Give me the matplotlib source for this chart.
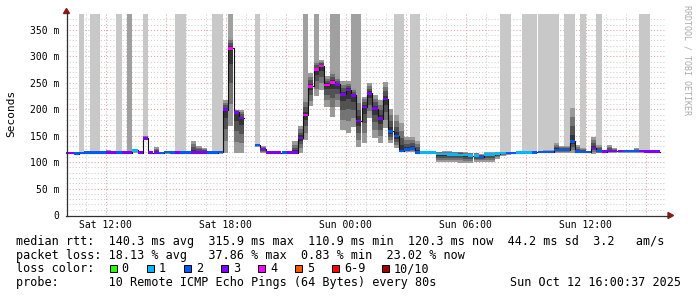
import numpy as np
import matplotlib
matplotlib.use("Agg")
import matplotlib.pyplot as plt
from matplotlib.lines import Line2D
from matplotlib.patches import Rectangle, Polygon

plt.rcParams['font.family'] = ['DejaVu Sans Mono']

nan = np.nan

# rrd rows are 16 minutes wide, first one starts Sat 09:52 (hours since Sat 00:00)
step_start = 9 + 52 / 60
step_len = 16 / 60

# median rtt per row (ms)
med = [117, 117, 116, 117, 118, 118, 118, 118, 118, 118,
       118, 118, 118, 122, 118, 145, 118, 118, 117, 119,
       118, 118, 118, 118, 118, 118, 118, 118, 118, 119,
       199, 315, 194, 183, nan, nan, 132, 125, 118, 118,
       118, 118, 118, 118, 146, 189, 243, 275, 282, 246,
       251, 247, 228, 236, 226, 178, 204, 230, 201, 182,
       219, 158, 149, 121, 124, 126, 118, 118.5, 118, 118,
       115, 115, 114, 114, 113.5, 113, 112, 112, 110, 114,
       114, 116, 117, 117, 117, 118, 118.5, 118.5, 118.5, 119,
       119, 119, 123, 123, 123, 139, 120, 119, 119, 127,
       121, 120, 121, 121, 121, 121, 121, 121, 121, 120,
       120, 120]

# lost pings per row (out of 10)
loss = [3, 3, 2, 2, 2, 2, 2, 2, 3, 3,
        2, 3, 3, 1, 3, 3, 3, 3, 2, 2,
        2, 3, 2, 2, 3, 3, 3, 2, 2, 2,
        3, 4, 3, 3, 0, 0, 2, 3, 3, 3,
        3, 2, 3, 3, 3, 4, 4, 4, 4, 4,
        4, 3, 3, 3, 3, 3, 3, 3, 3, 3,
        3, 2, 2, 2, 2, 2, 2, 1, 1, 1,
        1, 1, 1, 1, 1, 1, 1, 1, 2, 1,
        1, 1, 1, 2, 2, 1, 1, 1, 2, 2,
        2, 2, 2, 2, 2, 2, 2, 2, 2, 3,
        2, 3, 3, 3, 3, 2, 2, 2, 3, 3,
        3, 3]

# smoke extent (lowest / highest ping, ms)
lo = [115, 115, 114, 115, 116, 116, 116, 116, 116, 116,
      116, 116, 116, 118, 116, 143, 116, 116, 115, 116,
      116, 116, 116, 116, 116, 116, 116, 116, 116, 116,
      117, 168, 117, 117, nan, nan, 129, 118, 116, 116,
      116, 116, 116, 116, 118, 142, 206, 225, 236, 205,
      186, 205, 161, 155, 167, 129, 136, 183, 145, 136,
      164, 136, 126, 120, 120, 120, 116, 117, 116, 116,
      101, 101, 100, 100, 99, 99, 99, 100, 101, 101,
      101, 106, 112, 114, 115, 116, 116, 116, 116, 117,
      117, 117, 117, 117, 117, 117, 117, 117, 117, 116,
      117, 117, 118, 118, 118, 118, 118, 118, 118, 118,
      118, 118]
hi = [119, 119, 119, 120, 120, 121, 121, 120, 123, 120,
      120, 120, 121, 124, 120, 150, 121, 128, 120, 121,
      120, 120, 120, 120, 140, 131, 127, 121, 120, 121,
      218, 337, 199, 199, nan, nan, 135, 130, 120, 120,
      120, 120, 120, 139, 168, 222, 269, 292, 293, 262,
      272, 262, 253, 253, 240, 224, 224, 249, 227, 218,
      252, 200, 189, 174, 148, 148, 140, 121, 121, 121,
      120, 121, 121, 120, 120, 119, 118, 118, 116, 119,
      119, 120, 120, 120, 120, 120, 120, 120, 120, 121,
      123, 123, 137, 130, 130, 202, 132, 127, 121, 147,
      132, 122, 132, 127, 123, 123, 123, 126, 123, 122,
      122, 122]

# loss background shade per row: 0 none, 1 light, 2 darker
bg = [0, 0, 0, 1, 0, 1, 1, 0, 0, 0,
      1, 0, 2, 0, 0, 1, 0, 0, 0, 0,
      0, 1, 1, 0, 0, 0, 0, 0, 1, 1,
      0, 2, 0, 0, 0, 0, 1, 0, 0, 0,
      0, 0, 0, 0, 0, 2, 0, 2, 0, 0,
      2, 2, 0, 0, 2, 2, 0, 0, 0, 0,
      0, 0, 1, 1, 0, 1, 1, 0, 0, 0,
      0, 0, 0, 0, 0, 0, 0, 0, 0, 0,
      0, 0, 1, 1, 0, 0, 1, 1, 1, 1,
      1, 1, 1, 0, 1, 1, 0, 1, 0, 0,
      1, 0, 0, 0, 0, 0, 0, 0, 1, 1,
      0, 0]

loss_colors = {0: '#26ff00', 1: '#00b8ff', 2: '#0059ff', 3: '#7e00ff',
               4: '#ff00ff', 5: '#ff5500', 6: '#ff0000', 10: '#a10000'}
legend_labels = ['0', '1', '2', '3', '4', '5', '6-9', '10/10']
legend_keys = [0, 1, 2, 3, 4, 5, 6, 10]

xticks = [12, 18, 24, 30, 36]
xlabels = ['Sat 12:00', 'Sat 18:00', 'Sun 00:00', 'Sun 06:00', 'Sun 12:00']
yticks = [0, 50, 100, 150, 200, 250, 300, 350]
ylabels = ['0', '50 m', '100 m', '150 m', '200 m', '250 m', '300 m', '350 m']

med = np.array(med, float)
lo = np.array(lo, float)
hi = np.array(hi, float)
bg = np.array(bg)
n = len(med)
t = step_start + step_len * np.arange(n)
edges = step_start + step_len * np.arange(n + 1)
ytop = 380

W, H = 697, 297
fig = plt.figure(figsize=(W / 100, H / 100), dpi=100)
fig.patch.set_facecolor('white')


def fx(px):
    return px / W


def fy(py):
    return 1 - py / H


ax = fig.add_axes([fx(65.5), fy(215), 600 / W, 201 / H])
ax.set_xlim(10, 40)
ax.set_ylim(0, ytop)
for s in ax.spines.values():
    s.set_visible(False)

# grid (behind the data)
for h in range(11, 40):
    major = h % 3 == 0
    ax.axvline(h, color='#e4a0a0' if major else '#cfcfcf', lw=0.75,
               ls=(0, (1, 2)), zorder=0.5)
for v in range(10, ytop, 10):
    major = v % 50 == 0
    ax.axhline(v, color='#e4a0a0' if major else '#cfcfcf', lw=0.75,
               ls=(0, (1, 2)), zorder=0.5)

# loss background columns, from the median up to the top
ok = ~np.isnan(med)
for shade, c in [(1, '#c8c8c8'), (2, '#a0a0a0')]:
    m = ok & (bg == shade)
    ax.bar(t[m], ytop - med[m], bottom=med[m], width=step_len, align='edge',
           color=c, linewidth=0, zorder=1)

# smoke
for f, c in zip([1.0, 0.72, 0.45, 0.2], ['#9a9a9a', '#747474', '#525252', '#333333']):
    b = med - f * (med - lo)
    top = med + f * (hi - med)
    ax.bar(t[ok], (top - b)[ok], bottom=b[ok], width=step_len, align='edge',
           color=c, linewidth=0, zorder=2)

# median line and loss coloured bars
ax.step(edges, np.append(med, med[-1]), where='post', color='#111111', lw=0.8, zorder=3)
cols = [loss_colors[min(l, 6) if l < 10 else 10] for l in loss]
cols = [c for c, k in zip(cols, ok) if k]
ax.bar(t[ok], 4.8, bottom=med[ok] - 2.4, width=step_len, align='edge',
       color=cols, linewidth=0, zorder=4)

ax.set_xticks(xticks)
ax.set_xticklabels(xlabels, fontsize=7)
ax.set_yticks(yticks)
ax.set_yticklabels(ylabels, fontsize=7)
ax.tick_params(axis='both', length=0)
ax.tick_params(axis='y', pad=4.5)
ax.tick_params(axis='x', pad=3.5)

# axes with arrows
axc = '#303030'
fig.add_artist(Line2D([fx(66.5), fx(66.5)], [fy(215.5), fy(12)], color=axc, lw=0.9))
fig.add_artist(Line2D([fx(66), fx(669)], [fy(215.5), fy(215.5)], color=axc, lw=0.9))
fig.add_artist(Polygon([[fx(63.5), fy(13.5)], [fx(69.5), fy(13.5)], [fx(66.5), fy(8.5)]],
                       closed=True, color='#8b1a1a', transform=fig.transFigure))
fig.add_artist(Polygon([[fx(668), fy(212.5)], [fx(668), fy(218.5)], [fx(673.5), fy(215.5)]],
                       closed=True, color='#8b1a1a', transform=fig.transFigure))

fig.text(fx(11), fy(113), 'Seconds', rotation=90, ha='center', va='center', fontsize=8)
fig.text(fx(687.5), fy(5), 'RRDTOOL / TOBI OETIKER', rotation=270, ha='center', va='top',
         fontsize=6, color='#aaaaaa')

fs = 8.5
fig.text(fx(16), fy(245),
         'median rtt:  140.3 ms avg  315.9 ms max  110.9 ms min  120.3 ms now  44.2 ms sd  3.2   am/s',
         fontsize=fs, va='baseline')
fig.text(fx(16), fy(258.7),
         'packet loss: 18.13 % avg   37.86 % max  0.83 % min  23.02 % now',
         fontsize=fs, va='baseline')
fig.text(fx(16), fy(272.4), 'loss color:', fontsize=fs, va='baseline')
for k, (key, lab) in enumerate(zip(legend_keys, legend_labels)):
    sx = 109.5 + 37.1 * k if k < 7 else 381.5
    fig.add_artist(Rectangle((fx(sx), fy(272)), 7 / W, 7 / H, transform=fig.transFigure,
                             facecolor=loss_colors[key], edgecolor='black', lw=0.7))
    fig.text(fx(sx + 12), fy(272.4), lab, fontsize=fs, va='baseline')
fig.text(fx(16), fy(286.1),
         'probe:       10 Remote ICMP Echo Pings (64 Bytes) every 80s',
         fontsize=fs, va='baseline')
fig.text(fx(681), fy(286.1), 'Sun Oct 12 16:00:37 2025', fontsize=fs, va='baseline', ha='right')

fig.savefig('out.png', dpi=100, facecolor='white')
